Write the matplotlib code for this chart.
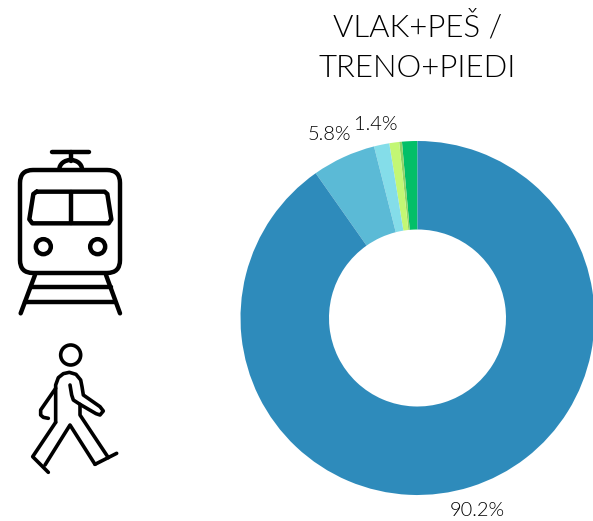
import numpy as np
import matplotlib
matplotlib.use("Agg")
import matplotlib.pyplot as plt
from matplotlib import font_manager as fm
from matplotlib.patches import Circle, FancyBboxPatch, Arc

plt.rcParams['font.family'] = ['Lato', 'DejaVu Sans']

W, H = 593, 521
TITLE = "VLAK+PEŠ /\nTRENO+PIEDI"
values = [90.2, 5.8, 1.4, 0.9, 0.25, 1.4]
colors = ['#2E8BBB', '#5BBAD6', '#84DDE9', '#C3F774', '#8FD267', '#03BF68']
labels = ['90.2%', '5.8%', '1.4%']

light_files = [f.fname for f in fm.fontManager.ttflist
               if f.fname.endswith('Lato-Light.ttf')]
fp = dict(fontproperties=fm.FontProperties(fname=light_files[0])) if light_files else dict(family='Lato')

fig = plt.figure(figsize=(W / 100, H / 100), dpi=100, facecolor='white')
ax = fig.add_axes([0, 0, 1, 1])
ax.pie(values[::-1], colors=colors[::-1], startangle=90, counterclock=True,
       center=(417.5, 521 - 318), radius=177,
       wedgeprops=dict(width=88.5, linewidth=0))
ax.set_xlim(0, W)
ax.set_ylim(0, H)
ax.set_aspect('equal')
ax.axis('off')

def Y(y):
    return H - y

tkw = dict(ha='center', va='center', color='black')
t = ax.text(417.5, Y(47.5), TITLE, linespacing=1.46, **fp, **tkw)
t.set_fontsize(22.4)
for lab, x, y in ((labels[0], 477, 511), (labels[1], 329.5, 134), (labels[2], 376, 124)):
    t = ax.text(x, Y(y), lab, **fp, **tkw)
    t.set_fontsize(14.4)

LW = 3.2
lk = dict(color='black', lw=LW, solid_capstyle='round', solid_joinstyle='round')

def tline(pts):
    p = np.array(pts, float)
    ax.plot(p[:, 0] / 3, Y(p[:, 1] / 3 + 140), **lk)

# Train icon
tline([(155, 37), (268, 37)])
tline([(212, 37), (212, 62)])
ax.add_patch(Arc((212 / 3, Y(88 / 3 + 140)), 68 / 3, 56 / 3, theta1=0, theta2=180,
                 color='black', lw=LW))
ax.add_patch(FancyBboxPatch((20 + 13, Y(273) + 13), 100 - 26, 103 - 26,
                            boxstyle="round,pad=13,rounding_size=13",
                            fc='none', ec='black', lw=LW))
tline([(110, 155), (314, 155), (322, 162), (334, 238), (326, 250),
       (97, 250), (88, 238), (100, 162), (110, 155)])
tline([(212, 155), (212, 250)])
for zx in (130, 293):
    ax.add_patch(Circle((zx / 3, Y(320 / 3 + 140)), 7.5, fc='none', ec='black', lw=LW))
tline([(105, 405), (62, 520)])
tline([(318, 405), (360, 520)])
tline([(92, 440), (332, 440)])
tline([(75, 487), (345, 487)])

# Walker icon
wk = dict(lk, lw=2.6)

def wline(pts):
    p = np.array(pts, float)
    ax.plot(p[:, 0] / 3 + 20, Y(p[:, 1] / 3 + 335), **wk)

ax.add_patch(Circle((152 / 3 + 20, Y(60 / 3 + 335)), 10, fc='none', ec='black', lw=2.6))
wline([(107, 262), (107, 150), (115, 128), (130, 116), (148, 112), (168, 118),
       (182, 135), (186, 155), (190, 180), (240, 215), (250, 228), (240, 240),
       (228, 236), (180, 208), (160, 195), (155, 180), (150, 150)])
wline([(180, 208), (180, 240), (265, 368)])
wline([(225, 388), (290, 355)])
wline([(225, 388), (150, 270), (75, 390)])
wline([(107, 262), (38, 365), (85, 412)])
wline([(107, 160), (62, 225), (62, 240), (70, 247), (85, 250)])

fig.savefig('out.png', dpi=100)
